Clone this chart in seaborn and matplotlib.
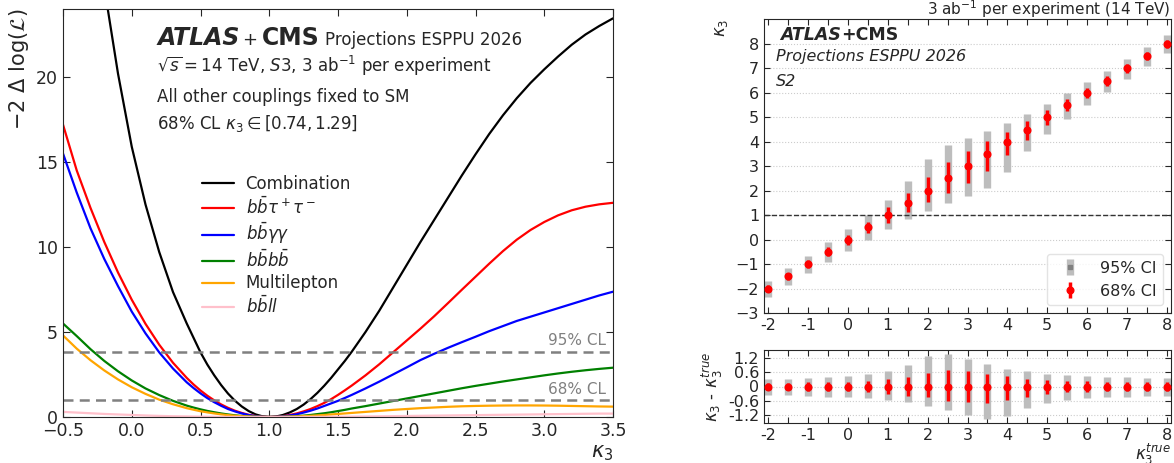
import numpy as np
import pandas as pd
import matplotlib
matplotlib.use('Agg')
import matplotlib.pyplot as plt
from matplotlib.lines import Line2D
import seaborn as sns

# ---- левая панель: скан -2ΔlogL по kappa_3 (около минимума шаг мельче)
kappa3 = [-0.5, -0.4, -0.3, -0.2, -0.1, 0.0, 0.1, 0.2, 0.3, 0.4,
          0.45, 0.5, 0.55, 0.6, 0.65, 0.7, 0.75, 0.8, 0.85, 0.9, 0.95, 1.0,
          1.05, 1.1, 1.15, 1.2, 1.25, 1.3, 1.35, 1.4, 1.45, 1.5, 1.55,
          1.6, 1.7, 1.8, 1.9, 2.0, 2.1, 2.2, 2.3, 2.4, 2.5, 2.6, 2.7, 2.8, 2.9, 3.0, 3.1, 3.2, 3.3, 3.4, 3.5]

nll_comb = [44.0, 37.5, 31.0, 25.3, 20.2, 15.9, 12.5, 9.7, 7.35, 5.5,
            4.65, 3.8, 3.08, 2.45, 1.88, 1.38, 0.96, 0.62, 0.35, 0.155, 0.04, 0.0,
            0.03, 0.12, 0.27, 0.47, 0.73, 1.05, 1.42, 1.84, 2.3, 2.8, 3.3,
            3.84, 5.0, 6.25, 7.6, 8.95, 10.3, 11.6, 12.9, 14.2, 15.45, 16.65, 17.75, 18.75, 19.65, 20.45,
            21.2, 21.9, 22.5, 23.0, 23.45]
nll_bbtautau = [17.2, 14.5, 12.3, 10.3, 8.5, 6.9, 5.48, 4.25, 3.19, 2.30,
                1.91, 1.56, 1.25, 0.98, 0.74, 0.54, 0.37, 0.24, 0.13, 0.06, 0.014, 0.0,
                0.013, 0.05, 0.12, 0.21, 0.33, 0.47, 0.64, 0.83, 1.05, 1.3, 1.57,
                1.85, 2.45, 3.1, 3.8, 4.5, 5.2, 5.93, 6.7, 7.48, 8.25, 9.02, 9.76, 10.43, 11.0, 11.47,
                11.86, 12.16, 12.37, 12.51, 12.6]
nll_bbgg = [15.5, 13.2, 11.1, 9.3, 7.7, 6.2, 4.92, 3.80, 2.85, 2.04,
            1.70, 1.39, 1.11, 0.87, 0.66, 0.47, 0.33, 0.21, 0.115, 0.05, 0.012, 0.0,
            0.01, 0.04, 0.09, 0.16, 0.26, 0.37, 0.5, 0.65, 0.8, 0.95, 1.12,
            1.3, 1.68, 2.08, 2.5, 2.92, 3.35, 3.72, 4.07, 4.4, 4.72, 5.05, 5.35, 5.65, 5.9, 6.15,
            6.4, 6.65, 6.9, 7.15, 7.37]
nll_bbbb = [5.5, 4.76, 3.99, 3.30, 2.69, 2.15, 1.68, 1.29, 0.95, 0.67,
            0.555, 0.45, 0.357, 0.28, 0.208, 0.15, 0.10, 0.06, 0.034, 0.015, 0.004, 0.0,
            0.003, 0.01, 0.025, 0.05, 0.08, 0.12, 0.17, 0.22, 0.28, 0.35, 0.42,
            0.5, 0.64, 0.79, 0.94, 1.09, 1.24, 1.39, 1.54, 1.69, 1.83, 1.96, 2.09, 2.21, 2.33, 2.45,
            2.56, 2.66, 2.75, 2.83, 2.9]
nll_multilep = [4.8, 4.02, 3.34, 2.74, 2.21, 1.75, 1.36, 1.02, 0.75, 0.52,
                0.427, 0.34, 0.271, 0.21, 0.155, 0.11, 0.074, 0.045, 0.025, 0.01, 0.003, 0.0,
                0.002, 0.01, 0.02, 0.03, 0.05, 0.07, 0.095, 0.12, 0.15, 0.18, 0.21,
                0.24, 0.3, 0.36, 0.42, 0.47, 0.52, 0.56, 0.6, 0.63, 0.65, 0.665, 0.675, 0.68, 0.68, 0.675,
                0.665, 0.65, 0.635, 0.62, 0.61]
nll_bbll = [0.3, 0.26, 0.22, 0.18, 0.15, 0.12, 0.09, 0.065, 0.045, 0.035,
            0.028, 0.02, 0.015, 0.01, 0.007, 0.005, 0.003, 0.002, 0.001, 0.0, 0.0, 0.0,
            0.0, 0.0, 0.001, 0.002, 0.003, 0.005, 0.007, 0.01, 0.012, 0.015, 0.017,
            0.02, 0.03, 0.04, 0.05, 0.06, 0.07, 0.08, 0.09, 0.1, 0.11, 0.12, 0.13, 0.14, 0.15, 0.16,
            0.17, 0.18, 0.19, 0.2, 0.2]

channels = ['Combination', r'$b\bar{b}\tau^+\tau^-$', r'$b\bar{b}\gamma\gamma$',
            r'$b\bar{b}b\bar{b}$', 'Multilepton', r'$b\bar{b}ll$']
channel_colors = ['black', 'red', 'blue', 'green', 'orange', 'pink']

# ---- правая панель: линейность kappa_3 (шаг 0.5 от -2 до 8)
k3_true = [-2, -1.5, -1, -0.5, 0, 0.5, 1, 1.5, 2, 2.5, 3, 3.5, 4, 4.5, 5, 5.5, 6, 6.5, 7, 7.5, 8]
k3_fit = [-2, -1.5, -1, -0.5, 0, 0.5, 1, 1.5, 2, 2.5, 3, 3.5, 4, 4.5, 5, 5.5, 6, 6.5, 7, 7.5, 8]
ci95_up = [0.32, 0.32, 0.35, 0.39, 0.43, 0.52, 0.64, 0.89, 1.28, 1.35, 1.14, 0.93, 0.75, 0.63, 0.54, 0.49,
           0.43, 0.40, 0.38, 0.36, 0.35]
ci95_dn = [0.35, 0.35, 0.38, 0.42, 0.45, 0.50, 0.56, 0.67, 0.81, 0.99, 1.20, 1.37, 1.23, 0.89, 0.68, 0.57,
           0.50, 0.46, 0.42, 0.39, 0.38]
ci68_up = [0.14, 0.15, 0.17, 0.18, 0.20, 0.22, 0.32, 0.40, 0.56, 0.68, 0.64, 0.53, 0.42, 0.33, 0.28, 0.24,
           0.21, 0.20, 0.18, 0.17, 0.17]
ci68_dn = [0.14, 0.15, 0.17, 0.18, 0.20, 0.24, 0.31, 0.38, 0.45, 0.59, 0.67, 0.70, 0.56, 0.42, 0.31, 0.25,
           0.22, 0.20, 0.18, 0.17, 0.17]
x_ticklabels = ['-2', '', '-1', '', '0', '', '1', '', '2', '', '3', '', '4', '', '5', '', '6', '', '7', '', '8']
res_ticks = [-1.2, -0.6, 0, 0.6, 1.2]
res_ticklabels = ['-1.2', '-0.6', '0', '0.6', '1.2']

sns.set_style('ticks')
plt.rcParams['font.family'] = ['DejaVu Sans']
plt.rcParams['mathtext.fontset'] = 'dejavusans'

fig = plt.figure(figsize=(11.74, 4.63), dpi=100)
W, H = 1174.0, 463.0
ax1 = fig.add_axes([63 / W, 46 / H, 550 / W, 408 / H])
ax2 = fig.add_axes([764 / W, 150 / H, 407 / W, 294 / H])
ax3 = fig.add_axes([764 / W, 40 / H, 407 / W, 73 / H])
renderer = fig.canvas.get_renderer()


def text_row(ax, x, y, parts):
    """Пишет подряд куски текста с разными шрифтами; gap - отступ в пикселях перед куском."""
    x_px = ax.transAxes.transform((x, y))[0]
    y_px = ax.transAxes.transform((x, y))[1]
    for s, props, gap in parts:
        x_px += gap
        t = fig.text(x_px / W, y_px / H, s, va='baseline', ha='left', **props)
        x_px = t.get_window_extent(renderer).x1


# ---------------- левая панель
scan = pd.DataFrame({'kappa3': np.tile(kappa3, 6),
                     'nll': nll_comb + nll_bbtautau + nll_bbgg + nll_bbbb + nll_multilep + nll_bbll,
                     'channel': np.repeat(channels, len(kappa3))})
sns.lineplot(data=scan, x='kappa3', y='nll', hue='channel', hue_order=channels,
             palette=dict(zip(channels, channel_colors)), linewidth=1.6, legend=False, ax=ax1)

ax1.axhline(3.84, color='grey', ls='--', lw=1.8, dashes=(4, 2.5))
ax1.axhline(1.0, color='grey', ls='--', lw=1.8, dashes=(4, 2.5))
ax1.text(3.45, 4.05, '95% CL', color='grey', fontsize=11, ha='right', va='bottom')
ax1.text(3.45, 1.2, '68% CL', color='grey', fontsize=11, ha='right', va='bottom')

ax1.set_xlim(-0.5, 3.5)
ax1.set_ylim(0, 24)
ax1.set_xticks([-0.5, 0, 0.5, 1, 1.5, 2, 2.5, 3, 3.5])
ax1.set_yticks([0, 5, 10, 15, 20])
ax1.tick_params(direction='in', top=True, right=True, labelsize=12.5, length=5)
ax1.set_xlabel(r'$\kappa_3$', fontsize=15, loc='right', labelpad=2)
ax1.set_ylabel(r'$-2\ \Delta\ \log(\mathcal{L})$', fontsize=15, loc='top')

handles = [Line2D([], [], color=c, lw=1.6) for c in channel_colors]
ax1.legend(handles, channels, loc='upper left', bbox_to_anchor=(0.241, 0.61), frameon=False,
           fontsize=12, handlelength=1.9, handletextpad=0.7, labelspacing=0.2, borderaxespad=0)

text_row(ax1, 0.171, 0.9125, [('ATLAS', dict(fontsize=17, fontweight='bold', fontstyle='italic'), 0),
                              ('+', dict(fontsize=13), 3),
                              ('CMS', dict(fontsize=17, fontweight='bold'), 4),
                              ('Projections ESPPU 2026', dict(fontsize=12), 6)])
ax1.text(0.171, 0.8456, r'$\sqrt{s}=14$ TeV, $S3$, 3 ab$^{-1}$ per experiment', fontsize=12,
         transform=ax1.transAxes, va='baseline')
ax1.text(0.171, 0.772, 'All other couplings fixed to SM', fontsize=12,
         transform=ax1.transAxes, va='baseline')
ax1.text(0.171, 0.7066, r'68% CL $\kappa_3 \in [0.74, 1.29]$', fontsize=12,
         transform=ax1.transAxes, va='baseline')


# ---------------- правая верхняя панель
def draw_cis(ax, centre):
    ax.errorbar(k3_true, centre, yerr=[ci95_dn, ci95_up], fmt='s', color='grey', ecolor='#bdbdbd',
                elinewidth=5.3, ms=3, capsize=0, label='95% CI', zorder=2)
    ax.errorbar(k3_true, centre, yerr=[ci68_dn, ci68_up], fmt='o', color='red', ecolor='red',
                elinewidth=2.5, ms=4.8, capsize=0, label='68% CI', zorder=3)


draw_cis(ax2, k3_fit)
ax2.axhline(1.0, color='#333333', ls='--', lw=1)
ax2.set_xlim(-2.1, 8.1)
ax2.set_ylim(-3, 9.02)
ax2.set_yticks(range(-3, 9))
ax2.set_xticks(k3_true)
ax2.set_xticklabels(x_ticklabels)
ax2.grid(axis='y', color='#cccccc', ls=':', lw=0.8)
ax2.tick_params(direction='in', top=True, right=True, labelsize=11.5, length=4)
ax2.set_ylabel(r'$\kappa_3$', fontsize=12, loc='top', labelpad=4)
ax2.set_title(r'3 ab$^{-1}$ per experiment (14 TeV)', loc='right', fontsize=11, pad=3)
ax2.legend(loc='lower right', fontsize=11.5, handletextpad=0.9, borderaxespad=0.5,
           frameon=True, edgecolor='#dddddd', fancybox=True)

text_row(ax2, 0.039, 0.93, [('ATLAS', dict(fontsize=12.5, fontweight='bold', fontstyle='italic'), 0),
                            ('+CMS', dict(fontsize=12.5, fontweight='bold'), 0)])
ax2.text(0.03, 0.856, 'Projections ESPPU 2026', fontsize=11.5, fontstyle='italic',
         transform=ax2.transAxes, va='baseline')
ax2.text(0.03, 0.773, 'S2', fontsize=11.5, fontstyle='italic', transform=ax2.transAxes, va='baseline')

# ---------------- правая нижняя панель: kappa_3 - kappa_3^true
residual = [f - t for f, t in zip(k3_fit, k3_true)]
draw_cis(ax3, residual)
ax3.set_xlim(-2.1, 8.1)
ax3.set_ylim(-1.53, 1.53)
ax3.set_xticks(k3_true)
ax3.set_xticklabels(x_ticklabels)
ax3.set_yticks(res_ticks)
ax3.set_yticklabels(res_ticklabels)
ax3.grid(axis='y', color='#cccccc', ls=':', lw=0.8)
ax3.tick_params(direction='in', top=True, right=True, labelsize=11.5, length=4)
ax3.set_xlabel(r'$\kappa_3^{true}$', fontsize=12, loc='right', labelpad=-1)
ax3.set_ylabel(r'$\kappa_3$ - $\kappa_3^{true}$', fontsize=12, labelpad=2)

fig.savefig('out.png', dpi=100)
